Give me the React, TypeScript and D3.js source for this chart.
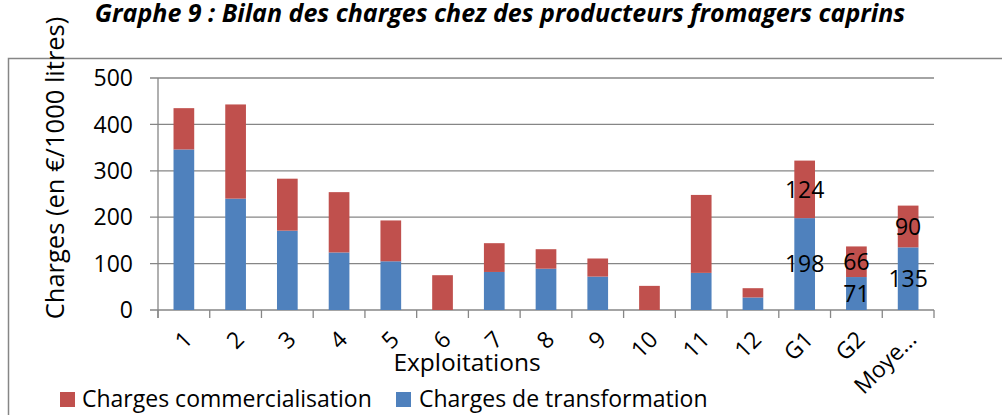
import React from "react";
import * as d3 from "d3";

const categories = ["1", "2", "3", "4", "5", "6", "7", "8", "9", "10", "11", "12", "G1", "G2", "Moyenne"];
const tickLabels = ["1", "2", "3", "4", "5", "6", "7", "8", "9", "10", "11", "12", "G1", "G2", "Moye…"];
const transformation = [346, 240, 171, 124, 105, 0, 82, 89, 72, 0, 80, 27, 198, 71, 135];
const commercialisation = [89, 203, 112, 130, 88, 75, 62, 42, 39, 52, 168, 20, 124, 66, 90];
const labeledCategories = ["G1", "G2", "Moyenne"];
const yTicks = [0, 100, 200, 300, 400, 500];

const W = 1002;
const H = 415;
const FONT = "'Open Sans', Lato, sans-serif";
const RED = "#C0504D";
const BLUE = "#4F81BD";
const GRID = "#868686";
const FS = 23;

export default function App() {
  const x = d3.scaleBand().domain(categories).range([158, 934]).paddingInner(0.6).paddingOuter(0.3);
  const y = d3.scaleLinear().domain([0, 500]).range([310, 78]);
  const step = x.step();
  const x0 = 158;
  const txt = { fontFamily: FONT, fill: "#000", style: { fontVariantLigatures: "none" } as React.CSSProperties };

  return (
    <svg width={W} height={H} style={{ position: "absolute", left: 0, top: 0, background: "#fff" }}>
      <text x={500} y={22} textAnchor="middle" fontWeight="bold" fontStyle="italic" fontSize={25} {...txt}>
        Graphe 9 : Bilan des charges chez des producteurs fromagers caprins
      </text>
      <rect x={8.5} y={58.5} width={1100} height={500} fill="none" stroke={GRID} strokeWidth={1.5} />

      {yTicks.map((t) => (
        <g key={"g" + t}>
          <line x1={150} x2={934} y1={y(t)} y2={y(t)} stroke={GRID} strokeWidth={1.3} />
          <text x={133} y={y(t)} dy="0.36em" textAnchor="end" fontSize={FS} {...txt}>
            {t}
          </text>
        </g>
      ))}
      <line x1={x0} x2={x0} y1={y(500)} y2={318} stroke={GRID} strokeWidth={1.3} />
      {d3.range(categories.length + 1).map((i) => (
        <line key={"t" + i} x1={x0 + i * step} x2={x0 + i * step} y1={310} y2={318} stroke={GRID} strokeWidth={1.3} />
      ))}

      {categories.map((c, i) => {
        const bx = x(c) as number;
        const bw = x.bandwidth();
        const b = transformation[i];
        const r = commercialisation[i];
        return (
          <g key={"b" + c}>
            {b > 0 && <rect x={bx} y={y(b)} width={bw} height={y(0) - y(b)} fill={BLUE} />}
            {r > 0 && <rect x={bx} y={y(b + r)} width={bw} height={y(b) - y(b + r)} fill={RED} />}
          </g>
        );
      })}

      {categories.map((c, i) => {
        if (!labeledCategories.includes(c)) return null;
        const cx = (x(c) as number) + x.bandwidth() / 2;
        const b = transformation[i];
        const r = commercialisation[i];
        return (
          <g key={"l" + c}>
            <text x={cx} y={y(b / 2)} dy="0.36em" textAnchor="middle" fontSize={FS} {...txt}>
              {b}
            </text>
            <text x={cx} y={y(b + r / 2)} dy="0.36em" textAnchor="middle" fontSize={FS} {...txt}>
              {r}
            </text>
          </g>
        );
      })}

      {categories.map((c, i) => {
        const cx = (x(c) as number) + x.bandwidth() / 2;
        return (
          <text
            key={"x" + c}
            transform={`translate(${cx + 4},${335}) rotate(-45)`}
            textAnchor="end"
            dy="0.36em"
            fontSize={FS}
            {...txt}
          >
            {tickLabels[i]}
          </text>
        );
      })}

      <text x={467} y={371} textAnchor="middle" fontSize={24.5} {...txt}>
        Exploitations
      </text>
      <text transform={`translate(64,168) rotate(-90)`} textAnchor="middle" fontSize={25.5} {...txt}>
        Charges (en €/1000 litres)
      </text>

      <rect x={60} y={392} width={15} height={15} fill={RED} />
      <text x={82} y={407} fontSize={FS} {...txt}>
        Charges commercialisation
      </text>
      <rect x={396} y={392} width={15} height={15} fill={BLUE} />
      <text x={419} y={407} fontSize={FS} {...txt}>
        Charges de transformation
      </text>
    </svg>
  );
}
